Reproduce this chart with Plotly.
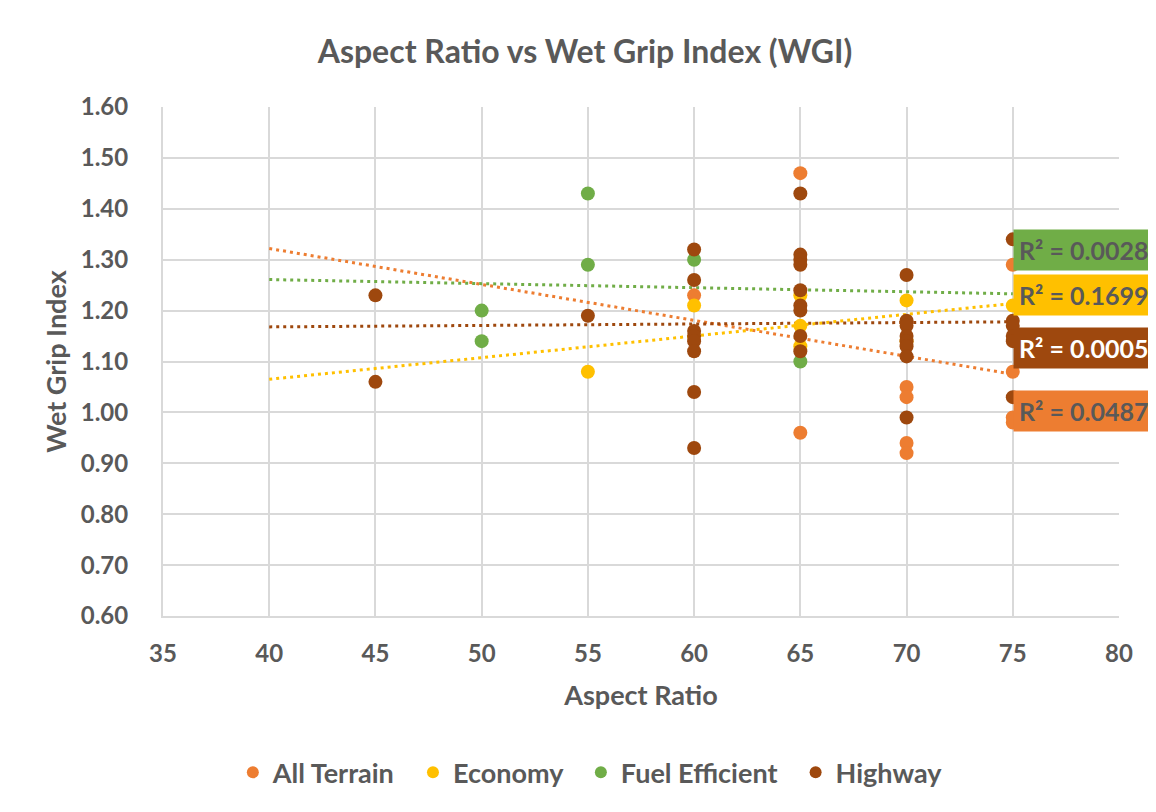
import plotly.graph_objects as go

# ---------------- data ----------------
series_names = ["All Terrain", "Economy", "Fuel Efficient", "Highway"]
series_colors = ["#ED7D31", "#FFC000", "#70AD47", "#9E480E"]

all_terrain_x = [60, 65, 65, 70, 70, 70, 70, 75, 75, 75, 75]
all_terrain_y = [1.23, 1.47, 0.96, 1.05, 1.03, 0.94, 0.92, 1.29, 1.08, 0.99, 0.98]

economy_x = [55, 60, 65, 65, 65, 70, 70, 75]
economy_y = [1.08, 1.21, 1.23, 1.17, 1.13, 1.22, 1.14, 1.21]

fuel_x = [50, 50, 55, 55, 60, 65]
fuel_y = [1.20, 1.14, 1.43, 1.29, 1.30, 1.10]

highway_x = [45, 45, 55,
             60, 60, 60, 60, 60, 60, 60, 60,
             65, 65, 65, 65, 65, 65, 65, 65, 65,
             70, 70, 70, 70, 70, 70, 70, 70,
             75, 75, 75, 75, 75, 75]
highway_y = [1.23, 1.06, 1.19,
             1.32, 1.26, 1.16, 1.15, 1.14, 1.12, 1.04, 0.93,
             1.43, 1.31, 1.30, 1.29, 1.24, 1.21, 1.20, 1.15, 1.12,
             1.27, 1.18, 1.17, 1.15, 1.14, 1.13, 1.11, 0.99,
             1.34, 1.18, 1.17, 1.15, 1.14, 1.03]

# linear trendlines (as drawn), evaluated at x = 40 and x = 75
trend_x = [40, 75]
trend_all_terrain = [1.322, 1.075]
trend_economy = [1.065, 1.214]
trend_fuel = [1.261, 1.233]
trend_highway = [1.168, 1.178]

r2_labels = ["R² = 0.0487", "R² = 0.1699", "R² = 0.0028", "R² = 0.0005"]

x_ticks = [35, 40, 45, 50, 55, 60, 65, 70, 75, 80]
y_ticks = [0.60, 0.70, 0.80, 0.90, 1.00, 1.10, 1.20, 1.30, 1.40, 1.50, 1.60]

# ---------------- figure ----------------
FONT = "Lato"
GREY = "#595959"
GRID = "#D9D9D9"
NBSP = "\u00a0"

xs = [all_terrain_x, economy_x, fuel_x, highway_x]
ys = [all_terrain_y, economy_y, fuel_y, highway_y]
trends = [trend_all_terrain, trend_economy, trend_fuel, trend_highway]

fig = go.Figure()

# trendlines first (drawn beneath points)
for name, color, tr in zip(series_names, series_colors, trends):
    fig.add_trace(go.Scatter(
        x=trend_x, y=tr, mode="lines",
        line=dict(color=color, width=3, dash="3px,4px"),
        showlegend=False, hoverinfo="skip", name=name + " trend"))

for i, (name, color, x, y) in enumerate(zip(series_names, series_colors, xs, ys)):
    # a little extra legend spacing between entries (as in the original)
    legend_label = name + (NBSP * 2 if i < len(series_names) - 1 else "")
    fig.add_trace(go.Scatter(
        x=x, y=y, mode="markers", name=legend_label,
        marker=dict(color=color, size=14, line=dict(width=0))))

# R² labels at right end of trendlines
label_y = {"All Terrain": 1.003, "Economy": 1.231, "Fuel Efficient": 1.319, "Highway": 1.127}
label_font_color = {"All Terrain": GREY, "Economy": GREY, "Fuel Efficient": GREY, "Highway": "white"}
for name, color, txt in zip(series_names, series_colors, r2_labels):
    fig.add_annotation(
        x=trend_x[-1], y=label_y[name], xref="x", yref="y",
        text=txt, showarrow=False, xanchor="left", yanchor="middle",
        bgcolor=color, borderpad=5,
        font=dict(family=FONT, size=25, color=label_font_color[name], weight="bold"))

# chart-area border
fig.add_shape(type="rect", xref="paper", yref="paper",
              x0=-0.1653, x1=1.09, y0=-0.45, y1=1.1965,
              line=dict(color=GRID, width=2), fillcolor="rgba(0,0,0,0)", layer="below")

# the page adds an 8px body margin; the figure is sized/offset to compensate
fig.update_layout(
    width=1148, height=804,
    margin=dict(l=155, r=37, t=99, b=196),
    paper_bgcolor="white", plot_bgcolor="white",
    title=dict(text="<b>Aspect Ratio vs Wet Grip Index (WGI)</b>",
               x=577 / 1148, xanchor="center", xref="container",
               y=1 - 44 / 804, yanchor="middle", yref="container",
               font=dict(family=FONT, size=32, color=GREY)),
    font=dict(family=FONT, color=GREY),
    legend=dict(orientation="h", x=0.447, xanchor="center",
                y=-0.308, yanchor="middle",
                font=dict(family=FONT, size=27, color=GREY, weight="bold"),
                itemsizing="constant", bgcolor="rgba(0,0,0,0)"),
    showlegend=True,
)

fig.update_xaxes(
    range=[35, 80], tickvals=x_ticks, ticktext=[str(v) for v in x_ticks],
    showgrid=True, gridcolor=GRID, gridwidth=2,
    showline=True, linecolor=GRID, linewidth=2,
    zeroline=False, ticks="", ticklabelstandoff=15,
    tickfont=dict(family=FONT, size=24, color=GREY, weight="bold"),
    title=dict(text="<b>Aspect Ratio</b>", standoff=20,
               font=dict(family=FONT, size=27, color=GREY)))

fig.update_yaxes(
    range=[0.6, 1.6], tickvals=y_ticks, ticktext=[f"{v:.2f}" for v in y_ticks],
    showgrid=True, gridcolor=GRID, gridwidth=2,
    showline=True, linecolor=GRID, linewidth=2,
    zeroline=False, ticks="", ticklabelstandoff=28,
    tickfont=dict(family=FONT, size=24, color=GREY, weight="bold"),
    title=dict(text="<b>Wet Grip Index</b>", standoff=6,
               font=dict(family=FONT, size=27, color=GREY)))

fig.write_html("out.html")
